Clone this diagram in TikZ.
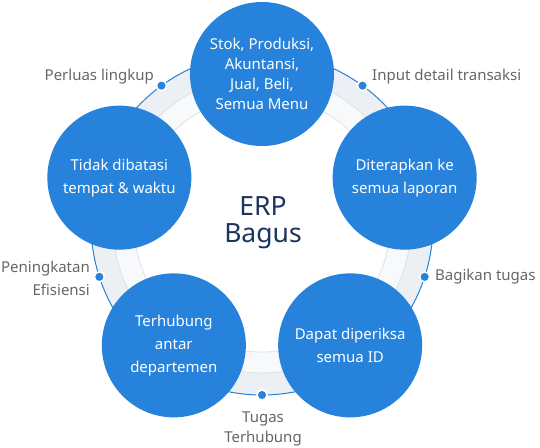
\documentclass[tikz,border=0pt]{standalone}
\usepackage{fontspec}
\setmainfont{Noto Sans}
\usetikzlibrary{calc}
\definecolor{erpblue}{RGB}{38,130,218}
\definecolor{bandgray}{RGB}{236,239,243}
\definecolor{bandlight}{RGB}{247,249,251}
\definecolor{linegray}{RGB}{221,225,230}
\definecolor{labelgray}{RGB}{102,102,102}
\definecolor{navy}{RGB}{28,52,96}
\tikzset{
  bubble/.style={circle, fill=erpblue, minimum size=144pt, inner sep=0pt, text=white, align=center, font=\fontsize{15}{23}\selectfont},
  lbl/.style={text=labelgray, inner sep=0pt, font=\fontsize{15}{23}\selectfont},
  dotb/.style={circle, fill=erpblue, draw=white, line width=1.5pt, minimum size=10pt, inner sep=0pt},
}
\begin{document}
\begin{tikzpicture}[x=1pt,y=1pt]
\useasboundingbox (0,0) rectangle (540,-447);
\coordinate (C) at (262,-224);
% ring
\fill[bandgray] (C) circle (171);
\fill[bandlight] (C) circle (149);
\fill[white] (C) circle (128);
\draw[linegray, line width=0.8pt] (C) circle (149);
\draw[linegray, line width=0.8pt] (C) circle (128);
\draw[erpblue, line width=1pt] (C) circle (171);
% dots
\node[dotb] (d1) at ($(C)+(126:171)$) {};
\node[dotb] (d2) at ($(C)+(54:171)$) {};
\node[dotb] (d3) at ($(C)+(-18:171)$) {};
\node[dotb] (d4) at ($(C)+(-90:171)$) {};
\node[dotb] (d5) at ($(C)+(198:171)$) {};
% bubbles
\node[bubble, font=\fontsize{15}{20}\selectfont] (top) at ($(C)+(90:150)$) {Stok, Produksi,\\Akuntansi,\\Jual, Beli,\\Semua Menu};
\node[bubble] (right) at ($(C)+(18:150)$) {Diterapkan ke\\semua laporan};
\node[bubble] (bright) at ($(C)+(-54:150)$) {Dapat diperiksa\\semua ID};
\node[bubble] (bleft) at ($(C)+(-126:150)$) {Terhubung\\antar\\departemen};
\node[bubble] (left) at ($(C)+(162:150)$) {Tidak dibatasi\\tempat \& waktu};
% centre
\node[text=navy, align=center, font=\fontsize{26.5}{27}\selectfont] (erp) at (263,-223) {ERP\\Bagus};
% labels
\node[lbl, anchor=east] (l1) at (154,-77) {Perluas lingkup};
\node[lbl, anchor=west] (l2) at (372,-77) {Input detail transaksi};
\node[lbl, anchor=west] (l3) at (435,-277) {Bagikan tugas};
\node[lbl, anchor=east, align=right] (l5) at (90,-278) {Peningkatan\\Efisiensi};
\node[lbl, align=center, font=\fontsize{15}{20}\selectfont] (l4) at (263,-429) {Tugas\\Terhubung};
\end{tikzpicture}
\end{document}
